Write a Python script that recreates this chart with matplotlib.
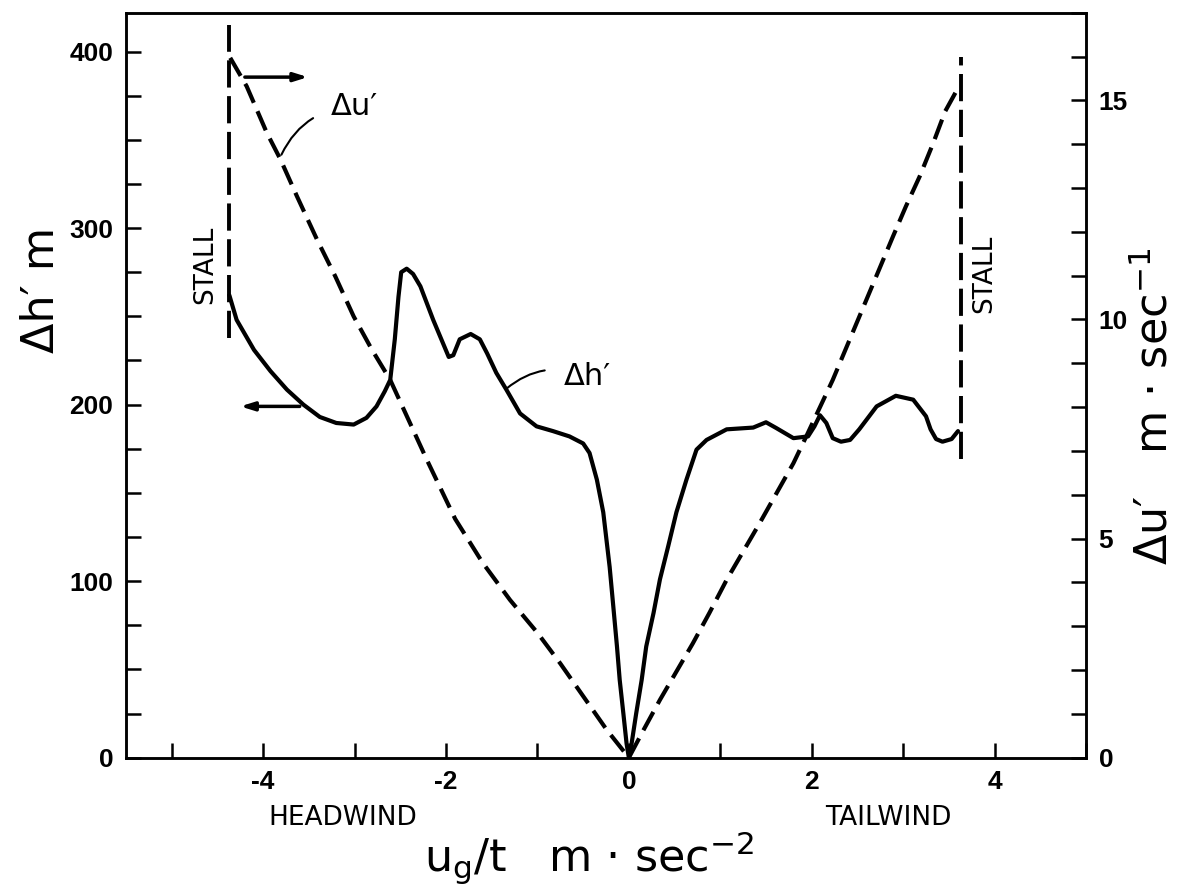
import numpy as np
import matplotlib
matplotlib.use('Agg')
import matplotlib.pyplot as plt
from matplotlib import font_manager
from matplotlib.ticker import MultipleLocator

# solid curve, delta h' (m), left axis
hx = [-4.37, -4.29, -4.10, -3.92, -3.74, -3.56, -3.38, -3.20, -3.01, -2.87, -2.76, -2.67, -2.61,
      -2.56, -2.52, -2.49, -2.43, -2.36, -2.28, -2.14, -1.97, -1.92, -1.85, -1.73, -1.63, -1.55,
      -1.45, -1.34, -1.19, -1.01, -0.83, -0.65, -0.50, -0.43, -0.35, -0.28, -0.21, -0.17, -0.13,
      -0.10, -0.06, -0.025, 0.0, 0.03, 0.08, 0.14, 0.19, 0.27, 0.34, 0.43, 0.52, 0.63, 0.74, 0.85,
      1.07, 1.36, 1.50, 1.61, 1.80, 1.96, 2.03, 2.09, 2.16, 2.23, 2.32, 2.42, 2.52, 2.71, 2.92,
      3.11, 3.25, 3.30, 3.36, 3.43, 3.53, 3.60]
hy = [262, 248, 231, 219, 208.5, 200, 193, 189.6, 188.7, 192.5, 199, 207.5, 214,
      237, 261, 275, 277, 274, 267, 248, 227, 228, 237, 240, 237, 229,
      218, 208.5, 195, 187.7, 185, 182, 178, 172.6, 157.5, 139, 108, 85.6, 63,
      44, 25, 8, 0, 8, 25, 44, 63, 82, 101, 119.7, 139, 157.5, 174.5, 180,
      186, 187, 190, 186.8, 181, 182, 187.7, 194, 189.6, 181, 179, 180, 186, 199, 205,
      202.8, 193.4, 186, 180.5, 179, 180.5, 185]

# dashed curve, delta u' (m/s), right axis
ux = [-4.36, -4.18, -3.96, -3.81, -3.63, -3.41, -3.21, -3.01, -2.81, -2.61, -2.41, -2.21,
      -1.9, -1.6, -1.3, -1.0, -0.75, -0.24, 0.0, 0.16, 0.34, 0.70, 0.88, 1.07, 1.43, 1.80, 1.94,
      2.23, 2.89, 3.03, 3.18, 3.33, 3.46, 3.60]
uy = [15.97, 15.32, 14.26, 13.65, 12.81, 11.82, 10.98, 10.07, 9.31, 8.62, 7.71, 6.80,
      5.45, 4.45, 3.6, 2.85, 2.15, 0.63, 0.0, 0.63, 1.32, 2.61, 3.30, 4.06, 5.35, 6.72, 7.33,
      8.62, 11.9, 12.58, 13.26, 14.03, 14.75, 15.28]

# stall limits (x, bottom and top in m)
stall_x = [-4.37, 3.63]
stall_lo = [238, 169]
stall_hi = [415, 397]

names = {f.name for f in font_manager.fontManager.ttflist}
narrow = 'Liberation Sans Narrow' if 'Liberation Sans Narrow' in names else 'DejaVu Sans'
tickfont = 'Liberation Sans' if 'Liberation Sans' in names else 'DejaVu Sans'
plt.rcParams['mathtext.default'] = 'regular'
plt.rcParams['axes.unicode_minus'] = False

fig = plt.figure(figsize=(11.82, 8.9), dpi=100)
ax = fig.add_axes([126/1182, 1-757.7/890, 960/1182, 745/890])
ax2 = ax.twinx()

ax.set_xlim(-5.5, 5)
ax.set_ylim(0, 422)
ax2.set_ylim(0, 17)

ax.plot(hx, hy, color='k', lw=3, solid_capstyle='round', solid_joinstyle='round')
ax2.plot(ux, uy, color='k', lw=3, dashes=(5, 2.2))
for sx, lo, hi in zip(stall_x, stall_lo, stall_hi):
    ax.plot([sx, sx], [lo, hi], color='k', lw=2.8, dashes=(7, 2.2))

ax.text(-4.63, 279, 'STALL', rotation=90, ha='center', va='center', fontsize=19, family=narrow)
ax.text(3.89, 274, 'STALL', rotation=90, ha='center', va='center', fontsize=19, family=narrow)

# labels on the curves
ax.annotate('\u0394h\u2032', xy=(-1.34, 209), xytext=(-0.45, 216), fontsize=22, ha='center', va='center',
            arrowprops=dict(arrowstyle='-', lw=1.5, color='k', connectionstyle='arc3,rad=0.3',
                            shrinkA=12, shrinkB=0))
ax2.annotate('\u0394u\u2032', xy=(-3.80, 13.76), xytext=(-3.0, 14.86), fontsize=22, ha='center', va='center',
             arrowprops=dict(arrowstyle='-', lw=1.5, color='k', connectionstyle='arc3,rad=0.3',
                             shrinkA=12, shrinkB=0))

# which axis each curve belongs to
ax.annotate('', xy=(-4.25, 199), xytext=(-3.60, 199),
            arrowprops=dict(arrowstyle='-|>,head_length=0.8,head_width=0.25', lw=2.5, color='k',
                            shrinkA=0, shrinkB=0))
ax2.annotate('', xy=(-3.51, 15.53), xytext=(-4.20, 15.53),
             arrowprops=dict(arrowstyle='-|>,head_length=0.8,head_width=0.25', lw=2.5, color='k',
                             shrinkA=0, shrinkB=0))

ax.xaxis.set_major_locator(MultipleLocator(2))
ax.xaxis.set_minor_locator(MultipleLocator(1))
ax.yaxis.set_major_locator(MultipleLocator(100))
ax.yaxis.set_minor_locator(MultipleLocator(25))
ax2.yaxis.set_major_locator(MultipleLocator(5))
ax2.yaxis.set_minor_locator(MultipleLocator(1))

ax.tick_params(which='both', direction='in', length=11, width=1.8, top=False, right=False)
ax.tick_params(axis='both', labelsize=19, pad=9)
ax2.tick_params(which='both', direction='in', length=11, width=1.8, labelsize=19, pad=9)
for lab in ax.get_xticklabels() + ax.get_yticklabels() + ax2.get_yticklabels():
    lab.set_fontweight('bold')
    lab.set_family(tickfont)
for a in (ax, ax2):
    for s in a.spines.values():
        s.set_linewidth(1.8)

fig.text(343/1182, 1-818/890, 'HEADWIND', ha='center', va='center', fontsize=19, family=narrow)
fig.text(888/1182, 1-818/890, 'TAILWIND', ha='center', va='center', fontsize=19, family=narrow)
fig.text(589/1182, 1-858/890, 'u$_g$/t   m \u00b7 sec$^{-2}$', ha='center', va='center', fontsize=32)
fig.text(42/1182, 1-290/890, '\u0394h\u2032 m', rotation=90, ha='center', va='center', fontsize=32)
fig.text(1155/1182, 1-406/890, '\u0394u\u2032   m \u00b7 sec$^{-1}$', rotation=90, ha='center', va='center',
         fontsize=32)

fig.savefig('out.png', dpi=100)
